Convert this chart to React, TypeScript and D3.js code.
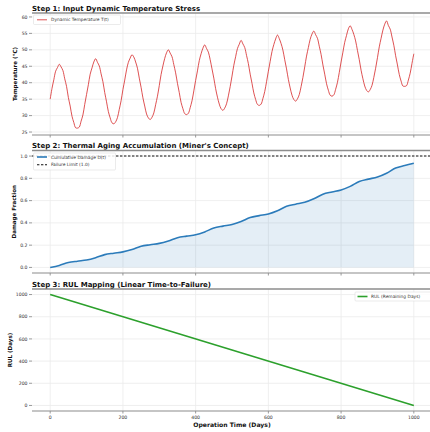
import React from 'react';
import * as d3 from 'd3';

// step 1: temperature read every 5 days (0..1000)
const temperature = [
  35.0, 38.3, 40.9, 43.5, 44.6, 45.6, 44.8, 43.7, 41.2, 38.9, 35.5, 32.9, 29.8, 27.9, 26.3, 26.2, 26.5, 28.3, 30.2, 33.4,
  36.4, 39.4, 42.6, 44.5, 46.3, 47.3, 46.2, 45.1, 42.7, 40.3, 37.0, 34.2, 31.2, 29.3, 27.8, 27.5, 28.1, 29.4, 31.9, 34.5,
  37.9, 40.8, 43.9, 46.2, 47.5, 48.5, 47.8, 46.3, 44.4, 41.4, 38.6, 35.4, 32.9, 30.5, 29.3, 28.8, 29.5, 30.8, 33.3, 35.9,
  39.1, 42.5, 45.1, 47.4, 49.1, 50.0, 49.0, 47.9, 45.5, 43.0, 39.8, 37.0, 34.0, 32.1, 30.6, 30.3, 30.7, 32.4, 34.5, 37.5,
  40.7, 43.6, 46.7, 48.8, 50.5, 51.5, 50.4, 49.3, 47.0, 44.2, 41.4, 38.2, 35.6, 33.5, 32.1, 31.6, 32.3, 33.6, 36.0, 38.8,
  42.0, 45.3, 47.9, 50.4, 51.7, 52.9, 51.8, 50.7, 48.3, 45.8, 42.6, 39.8, 36.9, 34.9, 33.4, 33.1, 33.5, 35.2, 37.3, 40.3,
  43.5, 46.5, 49.5, 51.6, 53.3, 54.5, 53.4, 51.9, 49.9, 47.0, 44.2, 41.0, 38.4, 36.2, 34.9, 34.4, 35.1, 36.4, 38.8, 41.6,
  44.8, 48.1, 50.7, 53.2, 54.8, 55.7, 54.6, 53.5, 51.1, 48.6, 45.4, 42.6, 39.7, 37.7, 36.2, 35.9, 36.3, 38.0, 40.1, 43.1,
  46.3, 49.3, 52.3, 54.4, 56.4, 57.3, 56.2, 54.7, 52.7, 49.8, 47.0, 43.8, 41.2, 39.0, 37.7, 37.2, 37.9, 39.2, 41.6, 44.4,
  47.6, 50.9, 53.5, 56.0, 57.8, 58.8, 57.4, 56.3, 53.9, 51.4, 48.2, 45.4, 42.5, 40.5, 39.0, 38.9, 39.1, 40.8, 42.9, 45.9,
  48.8,
];
const tempDays = temperature.map((_, i) => i * 5);

// step 2: cumulative damage read every 25 days
const damage = [
  0.0, 0.018, 0.044, 0.056, 0.066,
  0.087, 0.115, 0.128, 0.14,
  0.161, 0.19, 0.204, 0.216,
  0.238, 0.267, 0.281, 0.293,
  0.319, 0.354, 0.371, 0.385,
  0.412, 0.448, 0.465, 0.48,
  0.509, 0.549, 0.568, 0.585,
  0.616, 0.658, 0.678, 0.696,
  0.728, 0.772, 0.793, 0.812,
  0.846, 0.893, 0.915, 0.935,
];
const damageDays = damage.map((_, i) => i * 25);
const failureLimit = 1.0;

// step 3: RUL
const rulDays = [0, 1000];
const rul = [1000, 0];

const xTicks = [0, 200, 400, 600, 800, 1000];
const tempTicks = [25, 30, 35, 40, 45, 50, 55, 60];
const damageTicks = [0, 0.2, 0.4, 0.6, 0.8, 1.0];
const rulTicks = [0, 200, 400, 600, 800, 1000];

const W = 430;
const H = 432;
const left = 32;
const right = 432;
const font = 'DejaVu Sans, sans-serif';

const x = d3.scaleLinear().domain([-50, 1050]).range([left, right]);

function Frame({ y, ticks, fmt, top, bottom, title, titleY, ylabel, ylabelX, xlabels }) {
  return (
    <g>
      {xTicks.map(t => (
        <line key={'gx' + t} x1={x(t)} x2={x(t)} y1={top} y2={bottom} stroke="#ebebeb" strokeWidth={0.8} />
      ))}
      {ticks.map(t => (
        <line key={'gy' + t} x1={left} x2={right} y1={y(t)} y2={y(t)} stroke="#ebebeb" strokeWidth={0.8} />
      ))}
      {ticks.map(t => (
        <g key={'ty' + t}>
          <line x1={left - 3} x2={left} y1={y(t)} y2={y(t)} stroke="#555" strokeWidth={0.6} />
          <text x={left - 4.5} y={y(t)} dy="0.35em" textAnchor="end" fontSize={4.6} fill="#333">{fmt(t)}</text>
        </g>
      ))}
      {xTicks.map(t => (
        <g key={'tx' + t}>
          <line x1={x(t)} x2={x(t)} y1={bottom} y2={bottom + 2.5} stroke="#555" strokeWidth={0.6} />
          {xlabels && (
            <text x={x(t)} y={bottom + 7.5} textAnchor="middle" fontSize={4.6} fill="#333">{t}</text>
          )}
        </g>
      ))}
      <line x1={left} x2={right} y1={top} y2={top} stroke="#8c8c8c" strokeWidth={1.6} />
      <line x1={left} x2={right} y1={bottom} y2={bottom} stroke="#8c8c8c" strokeWidth={1.2} />
      <text x={left} y={titleY} fontSize={7.0} fontWeight="bold" fill="#111">{title}</text>
      <text transform={`translate(${ylabelX},${(top + bottom) / 2}) rotate(-90)`} textAnchor="middle"
        fontSize={5.6} fontWeight="bold" fill="#111">{ylabel}</text>
    </g>
  );
}

export default function App() {
  const y1 = d3.scaleLinear().domain([24.1, 61.2]).range([135, 13]);
  const y2 = d3.scaleLinear().domain([-0.05, 1.05]).range([273, 150.5]);
  const y3 = d3.scaleLinear().domain([-50, 1050]).range([411, 289]);

  const tempLine = d3.line<number>().x((_, i) => x(tempDays[i])).y(d => y1(d)).curve(d3.curveCatmullRom);
  const dmgLine = d3.line<number>().x((_, i) => x(damageDays[i])).y(d => y2(d)).curve(d3.curveMonotoneX);
  const dmgArea = d3.area<number>().x((_, i) => x(damageDays[i])).y0(y2(0)).y1(d => y2(d)).curve(d3.curveMonotoneX);
  const rulLine = d3.line<number>().x((_, i) => x(rulDays[i])).y(d => y3(d));

  return (
    <svg width={W} height={H} style={{ position: 'absolute', left: 0, top: 0, background: '#fff' }} fontFamily={font}>
      <rect width={W} height={H} fill="#fff" />

      {/* panel 1 */}
      <Frame y={y1} ticks={tempTicks} fmt={d => d} top={13} bottom={135}
        title="Step 1: Input Dynamic Temperature Stress" titleY={10.5}
        ylabel="Temperature (°C)" ylabelX={17} />
      <path d={tempLine(temperature)} fill="none" stroke="#d62728" strokeWidth={1} strokeOpacity={0.8} />
      <g>
        <rect x={33.5} y={15} width={87} height={9.5} fill="#fff" fillOpacity={0.85} stroke="#ddd" strokeWidth={0.6} rx={1} />
        <line x1={37} x2={47} y1={19.8} y2={19.8} stroke="#d62728" strokeWidth={1} strokeOpacity={0.8} />
        <text x={51} y={19.8} dy="0.35em" fontSize={4.4} fill="#333">Dynamic Temperature T(t)</text>
      </g>

      {/* panel 2 */}
      <Frame y={y2} ticks={damageTicks} fmt={d => d.toFixed(1)} top={150.5} bottom={273}
        title="Step 2: Thermal Aging Accumulation (Miner's Concept)" titleY={148}
        ylabel="Damage Fraction" ylabelX={15.5} />
      <path d={dmgArea(damage)} fill="#1f77b4" fillOpacity={0.12} />
      <path d={dmgLine(damage)} fill="none" stroke="#2b7bba" strokeWidth={1.6} />
      <line x1={left} x2={right} y1={y2(failureLimit)} y2={y2(failureLimit)} stroke="#111" strokeWidth={1.1} strokeDasharray="2.4,1.6" />
      <g>
        <rect x={33.5} y={153} width={82} height={17} fill="#fff" fillOpacity={0.85} stroke="#ddd" strokeWidth={0.6} rx={1} />
        <line x1={37} x2={47} y1={157} y2={157} stroke="#2b7bba" strokeWidth={1.6} />
        <text x={51} y={157} dy="0.35em" fontSize={4.4} fill="#333">Cumulative Damage D(t)</text>
        <line x1={37} x2={47} y1={164.8} y2={164.8} stroke="#111" strokeWidth={1.1} strokeDasharray="2.4,1.6" />
        <text x={51} y={164.8} dy="0.35em" fontSize={4.4} fill="#333">Failure Limit (1.0)</text>
      </g>

      {/* panel 3 */}
      <Frame y={y3} ticks={rulTicks} fmt={d => d} top={289} bottom={411}
        title="Step 3: RUL Mapping (Linear Time-to-Failure)" titleY={286.5}
        ylabel="RUL (Days)" ylabelX={11.5} xlabels />
      <path d={rulLine(rul)} fill="none" stroke="#2ca02c" strokeWidth={1.6} />
      <g>
        <rect x={355} y={292} width={76} height={9} fill="#fff" fillOpacity={0.85} stroke="#ddd" strokeWidth={0.6} rx={1} />
        <line x1={357.5} x2={367.5} y1={296.5} y2={296.5} stroke="#2ca02c" strokeWidth={1.6} />
        <text x={371} y={296.5} dy="0.35em" fontSize={4.4} fill="#333">RUL (Remaining Days)</text>
      </g>
      <text x={x(500)} y={427} textAnchor="middle" fontSize={6.1} fontWeight="bold" fill="#111">Operation Time (Days)</text>
    </svg>
  );
}
